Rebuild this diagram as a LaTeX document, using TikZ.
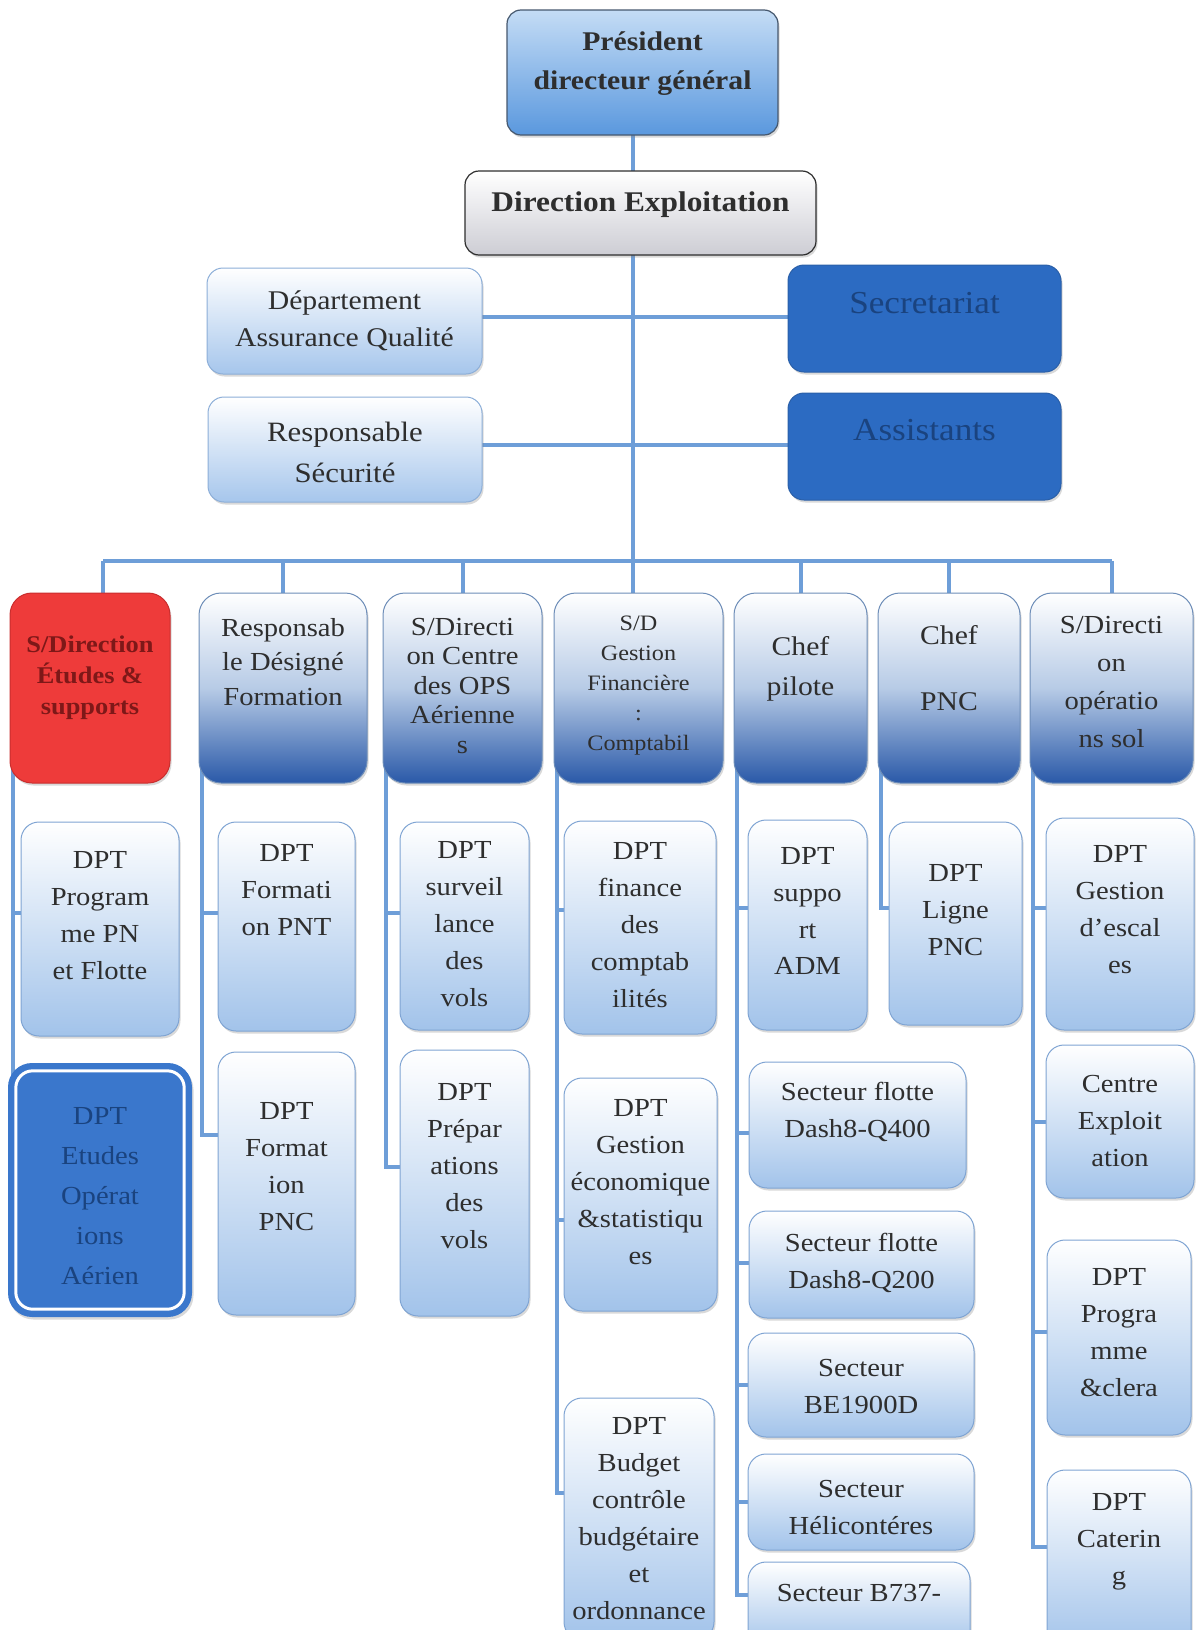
\documentclass[tikz,border=0pt]{standalone}
\usepackage{fontspec}
\setmainfont{Liberation Serif}[FakeStretch=1.1]
\usetikzlibrary{shadows,backgrounds}

\begin{document}
\begin{tikzpicture}[x=1pt, y=-1pt,
    link/.style={draw=linkblue, line width=4pt},
    boxshadow/.style={drop shadow={opacity=.3, shadow xshift=1.5pt, shadow yshift=-2.5pt}},
    topbox/.style={rounded corners=14pt, draw=#1, line width=1.2pt, boxshadow},
    softbox/.style={rounded corners=16pt, draw=softdraw, line width=1pt, top color=white, bottom color=softbot, boxshadow},
    secbox/.style={rounded corners=16pt, draw=secdraw, line width=1pt, fill=secblue, boxshadow},
    headbox/.style={rounded corners=22pt, draw=headdraw, line width=1pt, top color=white, bottom color=headbot, middle color=headmid, boxshadow},
    kidbox/.style={rounded corners=18pt, draw=kiddraw, line width=1pt, top color=white, bottom color=kidbot, boxshadow},
    txt/.style={inner sep=0pt, align=center, text=ink, font=\fontsize{26}{37}\selectfont},
  ]
  \definecolor{linkblue}{HTML}{6E9ED8}
  \definecolor{pdgtop}{HTML}{C4DCF5}
  \definecolor{pdgbot}{HTML}{5A98DE}
  \definecolor{pdgdraw}{HTML}{46586E}
  \definecolor{debot}{HTML}{CDCDD4}
  \definecolor{dedraw}{HTML}{2E2E2E}
  \definecolor{softbot}{HTML}{A6C6EC}
  \definecolor{softdraw}{HTML}{8CAED8}
  \definecolor{secblue}{HTML}{2C6BC2}
  \definecolor{secdraw}{HTML}{2A5FA8}
  \definecolor{secink}{HTML}{1A437F}
  \definecolor{redfill}{HTML}{EE3B3A}
  \definecolor{reddraw}{HTML}{C92E2E}
  \definecolor{redink}{HTML}{7E1818}
  \definecolor{headmid}{HTML}{B7CBE6}
  \definecolor{headbot}{HTML}{2A59A8}
  \definecolor{headdraw}{HTML}{6D8DB8}
  \definecolor{kidbot}{HTML}{A2C3EA}
  \definecolor{kiddraw}{HTML}{7FA4D3}
  \definecolor{ringblue}{HTML}{3A77CC}
  \definecolor{ink}{HTML}{2E2E2E}
  \useasboundingbox (0,0) rectangle (1195,1630);

  % top of the chart
  \node[topbox=pdgdraw, top color=pdgtop, bottom color=pdgbot, minimum width=271pt, minimum height=125pt] (pdg) at (642.5,72.5) {};
  \node[txt, font=\bfseries\fontsize{27}{39}\selectfont] (pdg-t) at ([yshift=9pt]pdg.center) {Président\\directeur général};
  \node[topbox=dedraw, top color=white, bottom color=debot, minimum width=351pt, minimum height=84pt] (de) at (640.5,213) {};
  \node[txt, font=\bfseries\fontsize{28.5}{30}\selectfont] (de-t) at ([yshift=8pt]de.center) {Direction Exploitation};
  \node[softbox, minimum width=275pt, minimum height=106pt] (aq) at (344.5,321) {};
  \node[txt, font=\fontsize{27}{37}\selectfont] (aq-t) at (aq.center) {Département\\Assurance Qualité};
  \node[softbox, minimum width=274pt, minimum height=105pt] (rs) at (345,449.5) {};
  \node[txt, font=\fontsize{28}{41}\selectfont] (rs-t) at ([yshift=-3pt]rs.center) {Responsable\\Sécurité};
  \node[secbox, minimum width=273pt, minimum height=107pt] (sec) at (924.5,318.5) {};
  \node[txt, text=secink, font=\fontsize{32}{36}\selectfont] (sec-t) at ([yshift=15pt]sec.center) {Secretariat};
  \node[secbox, minimum width=273pt, minimum height=107pt] (ass) at (924.5,446.5) {};
  \node[txt, text=secink, font=\fontsize{32}{36}\selectfont] (ass-t) at ([yshift=16pt]ass.center) {Assistants};

  % column heads
  \node[rounded corners=22pt, draw=reddraw, line width=1pt, fill=redfill, boxshadow, minimum width=160pt, minimum height=190pt] (h1) at (90,688) {};
  \node[txt, text=redink, font=\bfseries\fontsize{24}{31}\selectfont] (h1-t) at ([yshift=10pt]h1.center) {S/Direction\\Études \&\\supports};
  \node[headbox, minimum width=168pt, minimum height=190pt] (h2) at (283,688) {};
  \node[txt, font=\fontsize{26}{34.5}\selectfont] (h2-t) at ([yshift=26pt]h2.center) {Responsab\\le Désigné\\Formation};
  \node[headbox, minimum width=159pt, minimum height=190pt] (h3) at (462.5,688) {};
  \node[txt, font=\fontsize{26}{29.5}\selectfont] (h3-t) at ([yshift=2pt]h3.center) {S/Directi\\on Centre\\des OPS\\Aérienne\\s};
  \node[headbox, minimum width=169pt, minimum height=190pt] (h4) at (638.5,688) {};
  \node[txt, font=\fontsize{22}{30}\selectfont] (h4-t) at ([yshift=2pt]h4.center) {S/D\\Gestion\\Financière\\:\\Comptabil};
  \node[headbox, minimum width=133pt, minimum height=190pt] (h5) at (800.5,688) {};
  \node[txt, font=\fontsize{27}{40}\selectfont] (h5-t) at ([yshift=19pt]h5.center) {Chef\\pilote};
  \node[headbox, minimum width=142pt, minimum height=190pt] (h6) at (949,688) {};
  \node[txt, font=\fontsize{27}{33}\selectfont] (h6-t) at ([yshift=20pt]h6.center) {Chef\\[33pt]PNC};
  \node[headbox, minimum width=163pt, minimum height=190pt] (h7) at (1111.5,688) {};
  \node[txt, font=\fontsize{26}{38}\selectfont] (h7-t) at ([yshift=6pt]h7.center) {S/Directi\\on\\opératio\\ns sol};

  % departments and sectors
  \foreach \n/\x/\y/\w/\h/\dy/\t in {
      c1a/100/929/158/214/13/{DPT\\Program\\me PN\\et Flotte},
      c2a/286.5/926.5/137/209/36/{DPT\\Formati\\on PNT},
      c2b/286.5/1183.5/137/263/17/{DPT\\Format\\ion\\PNC},
      c3a/464.5/926/129/208/2/{DPT\\surveil\\lance\\des\\vols},
      c3b/464.5/1183/129/266/17/{DPT\\Prépar\\ations\\des\\vols},
      c4a/640/927.5/152/213/2/{DPT\\finance\\des\\comptab\\ilités},
      c4b/640.5/1194.5/153/233/12/{DPT\\Gestion\\économique\\\&statistiqu\\es},
      c4c/639/1519/150/242/0/{DPT\\Budget\\contrôle\\budgétaire\\et\\ordonnance},
      c5a/807.5/925/119/210/14/{DPT\\suppo\\rt\\ADM},
      c5b/857.5/1125/217/126/13/{Secteur flotte\\Dash8-Q400},
      c5c/861.5/1264.5/225/107/2/{Secteur flotte\\Dash8-Q200},
      c5d/861/1385/226/104/-2/{Secteur\\BE1900D},
      c5e/861/1502/226/96/-5/{Secteur\\Hélicontéres},
      c5f/859/1606/222/88/13/{Secteur B737-},
      c6a/955.5/923.5/133/203/13/{DPT\\Ligne\\PNC},
      c7a/1120/924/148/212/14/{DPT\\Gestion\\d’escal\\es},
      c7b/1120/1121.5/148/153/0/{Centre\\Exploit\\ation},
      c7c/1119/1337.5/144/195/5/{DPT\\Progra\\mme\\\&clera},
      c7d/1119/1560/144/180/18/{DPT\\Caterin\\g}}{
    \node[kidbox, minimum width=\w pt, minimum height=\h pt] (\n) at (\x,\y) {};
    \node[txt] (\n-t) at ([yshift=\dy pt]\n.center) {\t};
  }
  \node[fill=ringblue, rounded corners=24pt, boxshadow, minimum width=184pt, minimum height=254pt] (c1b) at (100,1190) {};
  \draw[white, line width=3pt, rounded corners=17pt] ([shift={(8pt,-8pt)}]c1b.north west) rectangle ([shift={(-8pt,8pt)}]c1b.south east);
  \node[txt, text=secink, font=\fontsize{26}{40}\selectfont] (c1b-t) at ([yshift=-6pt]c1b.center) {DPT\\Etudes\\Opérat\\ions\\Aérien};

  % connectors
  \begin{scope}[on background layer]
    \coordinate (bus) at (633,561);
    \coordinate (d1) at ([xshift=13pt]h1.north);
    \draw[link] (bus |- pdg.center) -- (bus |- h4.center);
    \draw[link] ([yshift=4pt]aq.center) -- ([yshift=4pt]aq.center -| sec.center);
    \draw[link] ([yshift=5pt]rs.center) -- ([yshift=5pt]rs.center -| ass.center);
    \draw[link] (d1 |- bus) -- (h7.north |- bus);
    \draw[link] (d1 |- bus) -- (d1 |- h1.center);
    \foreach \h in {h2,h3,h5,h6,h7}
      \draw[link] (\h.north |- bus) -- (\h.center);
    \foreach \h/\k/\dy in {h1/c1a/16, h2/c2a/13.5, h2/c2b/48.5, h3/c3a/13, h3/c3b/16,
                           h4/c4a/17.5, h4/c4b/-25.5, h4/c4c/26, h5/c5a/17, h5/c5b/-8,
                           h5/c5c/1.5, h5/c5d/0, h5/c5e/0, h5/c5f/11, h6/c6a/15.5,
                           h7/c7a/16, h7/c7b/0, h7/c7c/5.5, h7/c7d/13}
      \draw[link] ([xshift=3pt]\h.west) |- ([yshift=\dy pt]\k.center);
    \draw[link] ([xshift=3pt]h1.west) -- ([xshift=3pt]h1.west |- c1b.center);
  \end{scope}
\end{tikzpicture}
\end{document}
